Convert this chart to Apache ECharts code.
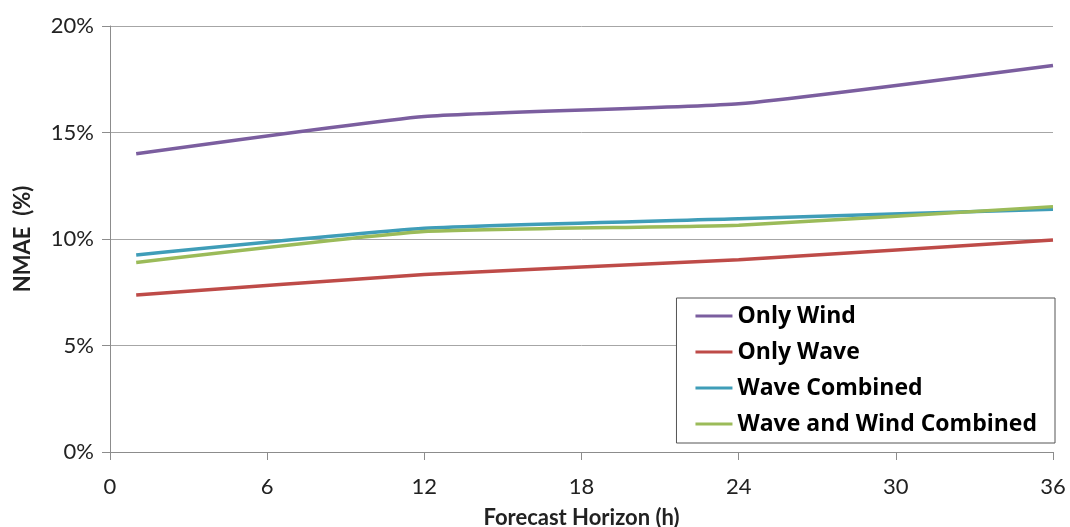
<!DOCTYPE html>
<html>
<head>
<meta charset="utf-8">
<script src="https://cdn.jsdelivr.net/npm/echarts@6/dist/echarts.min.js"></script>
<style>
  html, body { margin: 0; padding: 0; background: #fff; }
  #chart { width: 1070px; height: 527px; }
</style>
</head>
<body>
<div id="chart"></div>
<script>
// Forecast horizons (h)
var horizons = [1, 12, 24, 36];
var seriesNames = ['Only Wind', 'Only Wave', 'Wave Combined', 'Wave and Wind Combined'];
// NMAE (%)
var onlyWind = [14.0, 15.75, 16.35, 18.15];
var onlyWave = [7.37, 8.33, 9.03, 9.95];
var waveCombined = [9.25, 10.5, 10.95, 11.4];
var waveWindCombined = [8.9, 10.35, 10.65, 11.52];

var colors = ['#7B5E9F', '#BE4B48', '#3F9DB8', '#9BBB59'];

function pairs(vals) {
    return horizons.map(function (h, i) { return [h, vals[i]]; });
}

var chart = echarts.init(document.getElementById('chart'));

var allSeries = [onlyWind, onlyWave, waveCombined, waveWindCombined];

chart.setOption({
    animation: false,
    grid: { left: 110, right: 17, top: 26, bottom: 75, outerBoundsMode: 'none', containLabel: false },
    legend: {
        orient: 'vertical',
        right: 15,
        top: 298,
        data: seriesNames,
        icon: 'rect',
        itemWidth: 37,
        itemHeight: 3,
        itemGap: 10,
        padding: [5, 18, 6, 19],
        backgroundColor: '#fff',
        borderColor: '#555',
        borderWidth: 1,
        textStyle: {
            fontFamily: 'Open Sans',
            fontWeight: 'bold',
            fontSize: 23,
            color: '#000',
            lineHeight: 26
        }
    },
    xAxis: {
        type: 'value',
        min: 0,
        max: 36,
        interval: 6,
        name: 'Forecast Horizon (h)',
        nameLocation: 'middle',
        nameGap: 55,
        nameTextStyle: { fontFamily: 'Lato', fontWeight: 'bold', fontSize: 22, color: '#222' },
        axisLine: { lineStyle: { color: '#8c8c8c', width: 1 } },
        axisTick: { show: true, length: 8, lineStyle: { color: '#8c8c8c' } },
        axisLabel: { fontFamily: 'Lato', fontSize: 22, color: '#222', margin: 24 },
        splitLine: { show: false }
    },
    yAxis: {
        type: 'value',
        min: 0,
        max: 20,
        interval: 5,
        name: 'NMAE  (%)',
        nameLocation: 'middle',
        nameGap: 76,
        nameRotate: 90,
        nameTextStyle: { fontFamily: 'Lato', fontWeight: 'bold', fontSize: 22, color: '#222' },
        axisLine: { show: true, lineStyle: { color: '#8c8c8c', width: 1 } },
        axisTick: { show: true, length: 8, lineStyle: { color: '#8c8c8c' } },
        axisLabel: { formatter: '{value}%', fontFamily: 'Lato', fontSize: 22, color: '#222', margin: 16 },
        splitLine: { show: true, lineStyle: { color: '#a6a6a6', width: 1 } }
    },
    series: allSeries.map(function (vals, i) {
        return {
            name: seriesNames[i],
            type: 'line',
            data: pairs(vals),
            smooth: 0.15,
            showSymbol: false,
            symbol: 'none',
            color: colors[i],
            lineStyle: { width: 3.5, color: colors[i] }
        };
    })
});
</script>
</body>
</html>
